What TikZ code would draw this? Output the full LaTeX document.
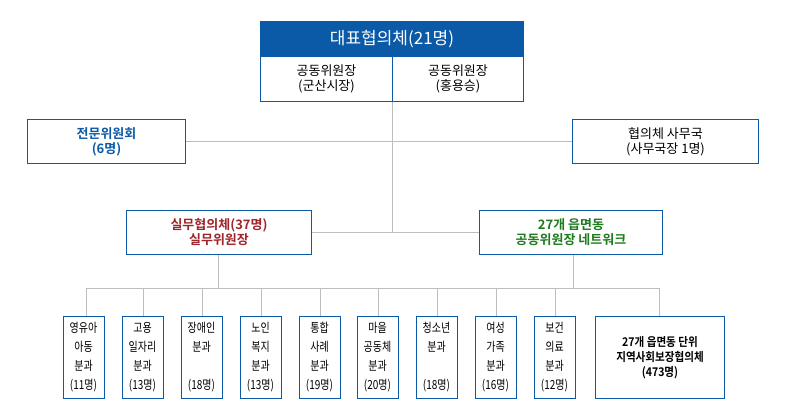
\documentclass[tikz,border=0pt]{standalone}
\usepackage{fontspec}
\setmainfont{Noto Sans CJK KR}
\newfontfamily\kb{Noto Sans CJK KR Bold}
\definecolor{bl}{HTML}{0B5AA8}
\definecolor{rd}{HTML}{A0242B}
\definecolor{gr}{HTML}{1E7B1E}
\definecolor{ln}{HTML}{BDBDBD}
\begin{document}
\begin{tikzpicture}[x=1pt,y=-1pt,
 bx/.style={draw=bl,line width=1pt,fill=white,align=center,inner sep=0pt},
 cn/.style={draw=ln,line width=0.8pt},
 nm/.style={font=\fontsize{13}{15}\selectfont}]
\useasboundingbox (0,0) rectangle (786,418);
\coordinate (t) at (392,101);
\coordinate (j2) at (392,232);
\coordinate (bl1) at (86,288);
\coordinate (br1) at (659,288);
\draw[cn] (t) -- (j2);
\draw[cn] (185,141) -- (572,141);
\draw[cn] (311,232) -- (479,232);
\draw[cn] (218,254) -- (218,288);
\draw[cn] (573,254) -- (573,288);
\draw[cn] (bl1) -- (br1);
\foreach \x in {86,143,202,261,320,378,437,496,555,659}{\draw[cn] (\x,288) -- (\x,316);}
\node[bx,fill=bl,minimum width=263,minimum height=35,anchor=north west,text=white,font=\fontsize{17}{19}\selectfont] (hd) at (260,21) {대표협의체(21명)};
\node[bx,minimum width=132,minimum height=45,anchor=north west,nm] (c1) at (260,56) {공동위원장\\(군산시장)};
\node[bx,minimum width=131,minimum height=45,anchor=north west,nm] (c2) at (392,56) {공동위원장\\(홍용승)};
\node[bx,minimum width=158,minimum height=44,anchor=north west,text=bl,font=\kb\fontsize{13}{15}\selectfont] (L) at (27,119) {전문위원회\\(6명)};
\node[bx,minimum width=186,minimum height=44,anchor=north west,nm] (R) at (572,119) {협의체 사무국\\(사무국장 1명)};
\node[bx,minimum width=185,minimum height=44,anchor=north west,text=rd,font=\kb\fontsize{13}{15}\selectfont] (ML) at (126,210) {실무협의체(37명)\\실무위원장};
\node[bx,minimum width=183,minimum height=44,anchor=north west,text=gr,font=\kb\fontsize{13}{15}\selectfont] (MR) at (479,210) {27개 읍면동\\공동위원장 네트워크};
\foreach \x/\t [count=\i] in {63/{영유아\\아동\\분과\\(11명)},122/{고용\\일자리\\분과\\(13명)},181/{장애인\\분과\\\\(18명)},240/{노인\\복지\\분과\\(13명)},299/{통합\\사례\\분과\\(19명)},357/{마을\\공동체\\분과\\(20명)},416/{청소년\\분과\\\\(18명)},475/{여성\\가족\\분과\\(16명)},534/{보건\\의료\\분과\\(12명)}}{
 \node[bx,minimum width=41,minimum height=82,anchor=north west] (b\i) at (\x,316) {};
 \node[align=center,anchor=north,inner sep=0pt,font=\fontsize{12.5}{19}\selectfont,xscale=0.8] at (\x+20.5,322) {\t};
}
\node[bx,minimum width=129,minimum height=82,anchor=north west,font=\kb\fontsize{12}{15}\selectfont] (b10) at (595,316) {\scalebox{0.88}[1]{27개 읍면동 단위}\\\scalebox{0.88}[1]{지역사회보장협의체}\\\scalebox{0.88}[1]{(473명)}};
\end{tikzpicture}
\end{document}
